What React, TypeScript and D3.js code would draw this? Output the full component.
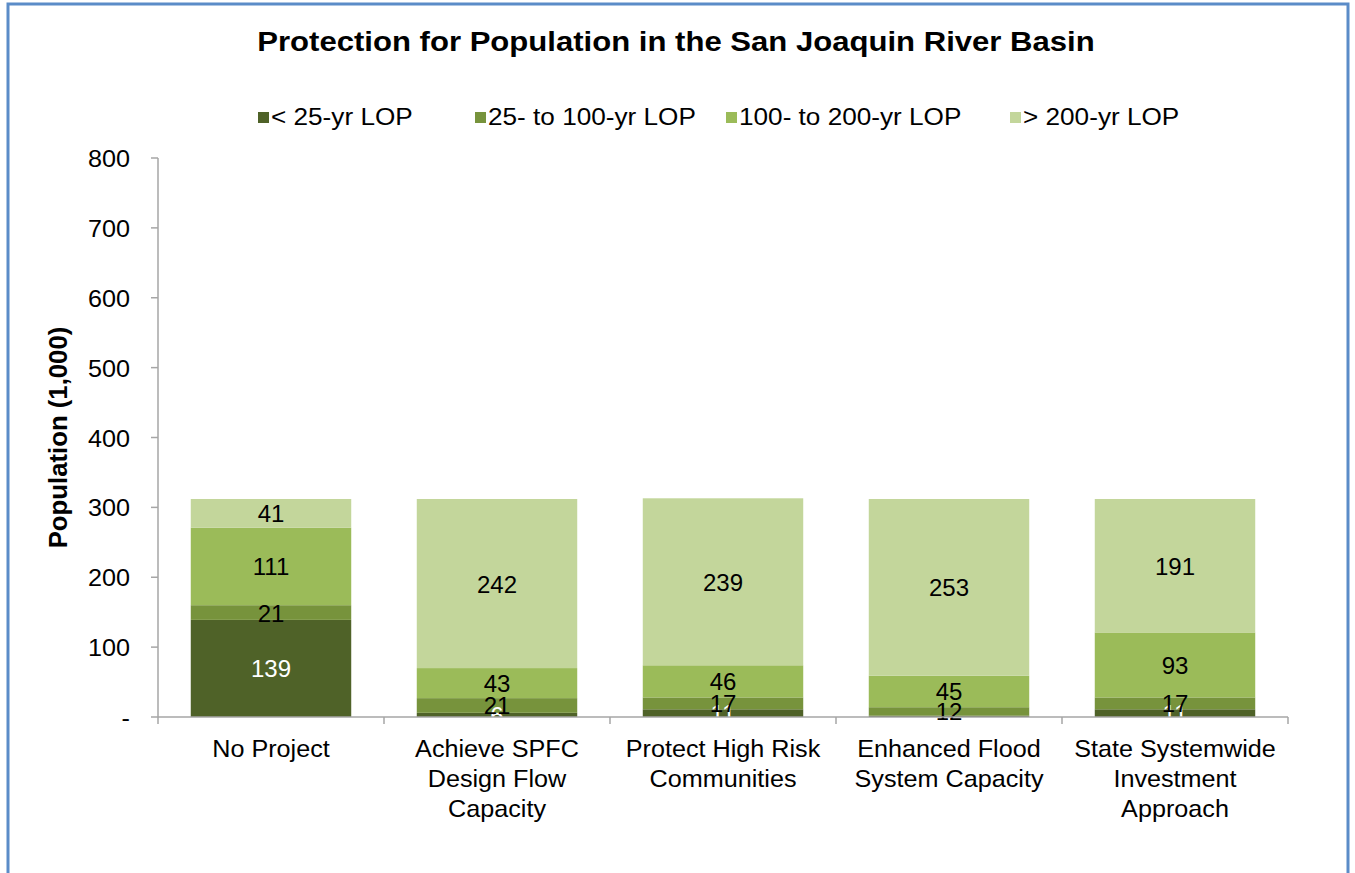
import React from "react";
import * as d3 from "d3";

const categories = [
  ["No Project"],
  ["Achieve SPFC", "Design Flow", "Capacity"],
  ["Protect High Risk", "Communities"],
  ["Enhanced Flood", "System Capacity"],
  ["State Systemwide", "Investment", "Approach"],
];
const seriesNames = ["< 25-yr LOP", "25- to 100-yr LOP", "100- to 200-yr LOP", "> 200-yr LOP"];
const lt25 = [139, 6, 11, 2, 11];
const lop25to100 = [21, 21, 17, 12, 17];
const lop100to200 = [111, 43, 46, 45, 93];
const gt200 = [41, 242, 239, 253, 191];
const showLabel = [
  [true, true, true, false, true],
  [true, true, true, true, true],
  [true, true, true, true, true],
  [true, true, true, true, true],
];
const yTicks = [0, 100, 200, 300, 400, 500, 600, 700, 800];
const colors = ["#4f6228", "#77933c", "#9bbb59", "#c3d69b"];
const labelColors = ["#ffffff", "#000000", "#000000", "#000000"];

const FONT = "'Liberation Sans', Arial, sans-serif";

function T({ x, y, sx = 1.07, size = 24, anchor = "start", weight = "normal", fill = "#000", rotate = 0, children }: any) {
  return (
    <text
      transform={`translate(${x},${y}) rotate(${rotate}) scale(${sx},1)`}
      textAnchor={anchor}
      fontSize={size}
      fontWeight={weight}
      fill={fill}
    >
      {children}
    </text>
  );
}

export default function App() {
  const W = 1355, H = 873;
  const left = 158, right = 1288, top = 158, bottom = 717;
  const x = d3.scaleBand<number>().domain(d3.range(categories.length)).range([left, right]).paddingInner(0.29).paddingOuter(0.145);
  const y = d3.scaleLinear().domain([0, 800]).range([bottom, top]);
  const step = (right - left) / categories.length;
  const values = [lt25, lop25to100, lop100to200, gt200];
  const rows = categories.map((_, i) => {
    const o: any = { i };
    values.forEach((v, s) => (o["s" + s] = v[i]));
    return o;
  });
  const stack = d3.stack<any>().keys(["s0", "s1", "s2", "s3"])(rows);
  const legendX = [258, 475, 726, 1010];

  return (
    <svg width={W} height={H} style={{ position: "absolute", left: 0, top: 0 }} fontFamily={FONT}>
      <rect x={0} y={0} width={W} height={H} fill="#fff" />
      <path d={`M8,${H} L8,4 L1348,4 L1348,${H}`} fill="none" stroke="#5b8cc8" strokeWidth={3} />
      <T x={676} y={51} size={28} sx={1.11} anchor="middle" weight="bold">
        Protection for Population in the San Joaquin River Basin
      </T>
      {seriesNames.map((n, s) => (
        <g key={n}>
          <rect x={legendX[s]} y={112} width={11} height={11} fill={colors[s]} />
          <T x={legendX[s] + 13} y={125} size={24} sx={1.09}>{n}</T>
        </g>
      ))}
      {stack.map((layer, s) =>
        layer.map((d, i) => (
          <rect key={s + "-" + i} x={x(i)} y={y(d[1])} width={x.bandwidth()} height={y(d[0]) - y(d[1])} fill={colors[s]} />
        ))
      )}
      {stack.map((layer, s) =>
        layer.map((d, i) =>
          showLabel[s][i] ? (
            <T key={"l" + s + "-" + i} x={x(i)! + x.bandwidth() / 2} y={y((d[0] + d[1]) / 2) + 9} size={24} sx={1.0} anchor="middle" fill={labelColors[s]}>
              {values[s][i]}
            </T>
          ) : null
        )
      )}
      {/* y axis */}
      <line x1={left} x2={left} y1={top} y2={bottom} stroke="#a6a6a6" strokeWidth={1.5} />
      {yTicks.map((t) => (
        <g key={t}>
          <line x1={left - 7} x2={left} y1={y(t)} y2={y(t)} stroke="#a6a6a6" strokeWidth={1.5} />
          <T x={130} y={y(t) + 9} size={24} sx={1.05} anchor="end">{t === 0 ? "-" : t}</T>
        </g>
      ))}
      <T x={67} y={(top + bottom) / 2} rotate={-90} size={25} sx={1.03} anchor="middle" weight="bold">
        Population (1,000)
      </T>
      {/* x axis */}
      <line x1={left} x2={right} y1={bottom} y2={bottom} stroke="#a6a6a6" strokeWidth={1.5} />
      {d3.range(categories.length + 1).map((k) => (
        <line key={k} x1={left + k * step} x2={left + k * step} y1={bottom} y2={bottom + 7} stroke="#a6a6a6" strokeWidth={1.5} />
      ))}
      {categories.map((lines, i) =>
        lines.map((ln, j) => (
          <T key={i + "-" + j} x={x(i)! + x.bandwidth() / 2} y={757 + j * 30} size={24} sx={1.05} anchor="middle">{ln}</T>
        ))
      )}
    </svg>
  );
}
